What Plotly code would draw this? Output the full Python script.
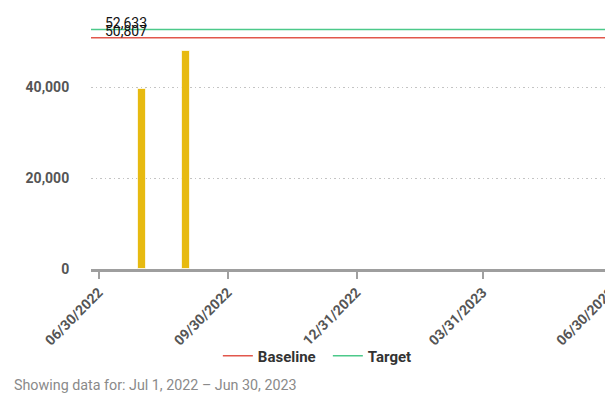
import plotly.graph_objects as go

# Data
bar_dates = ["2022-07-31", "2022-08-31"]
bar_values = [39550, 47850]
baseline_value = 50807
target_value = 52633
x_start = "2022-06-24 10:00"
x_end = "2023-07-02"
tick_dates = ["2022-06-30", "2022-09-30", "2022-12-31", "2023-03-31", "2023-06-30"]
tick_labels = ["06/30/2022", "09/30/2022", "12/31/2022", "03/31/2023", "06/30/2023"]
y_ticks = [0, 20000, 40000]
y_tick_labels = ["0", "20,000", "40,000"]
footer = "Showing data for: Jul 1, 2022 – Jun 30, 2023"

fig = go.Figure()
fig.add_trace(go.Bar(
    x=bar_dates, y=bar_values, width=5.8 * 86400000,
    marker=dict(color="#E7BA10", line=dict(color="rgba(255,255,255,0.7)", width=1)),
    showlegend=False, hoverinfo="skip",
))
fig.add_trace(go.Scatter(
    x=[x_start, x_end], y=[baseline_value, baseline_value], mode="lines",
    line=dict(color="#E2574C", width=1.5), name="Baseline",
))
fig.add_trace(go.Scatter(
    x=[x_start, x_end], y=[target_value, target_value], mode="lines",
    line=dict(color="#4CC98A", width=1.5), name="Target",
))

for v in [target_value, baseline_value]:
    fig.add_annotation(
        xref="paper", x=0.023, y=v, yref="y", text=f"{v:,}", showarrow=False,
        xanchor="left", yanchor="bottom", yshift=-3,
        font=dict(family="Roboto", size=14, color="#111"),
    )

fig.add_annotation(
    xref="paper", yref="paper", x=-0.151, y=-0.448, text=footer, showarrow=False,
    xanchor="left", yanchor="middle",
    font=dict(family="Roboto", size=14.3, color="#8a8a8a"),
)

fig.update_layout(
    width=605, height=388,
    margin=dict(l=83, r=0, t=2, b=127, autoexpand=False),
    plot_bgcolor="white", paper_bgcolor="white",
    bargap=0,
    legend=dict(
        orientation="h", x=0.243, xanchor="left", y=-0.336, yanchor="middle",
        font=dict(family="Roboto", size=15, color="#333", weight="bold"),
        bgcolor="rgba(0,0,0,0)",
        entrywidth=65, entrywidthmode="pixels",
        itemwidth=30, tracegroupgap=0,
    ),
    xaxis=dict(
        type="date", range=[x_start, x_end], automargin=False,
        tickvals=tick_dates, ticktext=tick_labels, tickangle=-45,
        ticklabeloverflow="allow",
        ticks="outside", ticklen=7, tickcolor="#a0a0a0", tickwidth=1.5,
        showgrid=False, showline=True, linecolor="#9e9e9e", linewidth=2.5,
        tickfont=dict(family="Roboto", size=14, color="#555", weight="bold"),
        zeroline=False,
    ),
    yaxis=dict(
        range=[0, 56923], tickvals=y_ticks, ticktext=y_tick_labels, automargin=False,
        showgrid=True, gridcolor="#c4c4c4", griddash="1.5px,3px", gridwidth=1,
        ticks="outside", ticklen=18, tickcolor="rgba(0,0,0,0)",
        tickfont=dict(family="Roboto", size=14, color="#555", weight="bold"),
        zeroline=False, showline=False,
    ),
)

fig.write_html("out.html")
